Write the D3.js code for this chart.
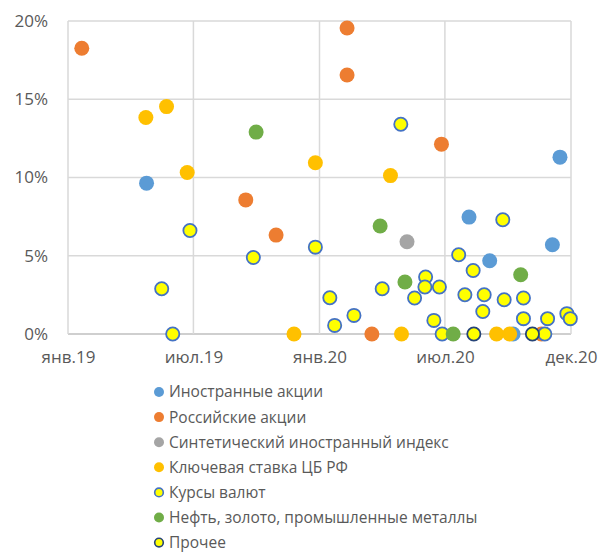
<!doctype html>
<html lang="ru">
<head>
<meta charset="utf-8">
<script src="https://d3js.org/d3.v7.min.js"></script>
<style>
  body { margin: 0; background: #fff; }
  text { font-family: "Open Sans", sans-serif; fill: #595959; }
</style>
</head>
<body>
<div id="chart"></div>
<script>
// data: [date, percent]
var foreignStocks = [["2019-04-25", 9.64], ["2020-08-05", 7.47], ["2020-09-04", 4.68], ["2020-12-04", 5.7], ["2020-12-15", 11.3], ["2020-10-08", 0]];
var russianStocks = [["2019-01-21", 18.26], ["2020-02-10", 19.55], ["2020-02-10", 16.55], ["2019-09-16", 8.57], ["2019-10-30", 6.32], ["2020-06-26", 12.13], ["2020-03-17", 0], ["2020-11-18", 0]];
var syntheticIndex = [["2020-05-07", 5.89]];
var keyRate = [["2019-04-24", 13.83], ["2019-05-24", 14.53], ["2019-06-23", 10.32], ["2019-12-26", 10.94], ["2020-04-13", 10.12], ["2019-11-25", 0], ["2020-04-29", 0], ["2020-09-14", 0], ["2020-10-03", 0]];
var currencies = [["2020-04-28", 13.4], ["2019-06-27", 6.61], ["2019-05-17", 2.89], ["2019-06-02", 0], ["2019-09-27", 4.89], ["2019-12-26", 5.55],
  ["2020-01-16", 2.32], ["2020-01-23", 0.55], ["2020-02-20", 1.19], ["2020-04-01", 2.89], ["2020-05-18", 2.3], ["2020-06-03", 3.64],
  ["2020-06-02", 3.0], ["2020-06-23", 3.0], ["2020-06-15", 0.87], ["2020-06-27", 0], ["2020-09-23", 7.3], ["2020-07-21", 5.06],
  ["2020-08-11", 4.06], ["2020-07-30", 2.51], ["2020-08-27", 2.51], ["2020-08-25", 1.44], ["2020-09-25", 2.19], ["2020-10-23", 2.3],
  ["2020-10-23", 0.98], ["2020-11-27", 0.98], ["2020-12-25", 1.3], ["2020-12-30", 0.98], ["2020-11-23", 0]];
var commodities = [["2019-10-01", 12.9], ["2020-03-29", 6.9], ["2020-05-04", 3.32], ["2020-07-13", 0], ["2020-10-19", 3.79]];
var other = [["2020-08-12", 0], ["2020-11-05", 0]];

var seriesNames = ["Иностранные акции", "Российские акции", "Синтетический иностранный индекс", "Ключевая ставка ЦБ РФ",
  "Курсы валют", "Нефть, золото, промышленные металлы", "Прочее"];
var seriesData = [foreignStocks, russianStocks, syntheticIndex, keyRate, currencies, commodities, other];

var xTickDates = ["2019-01-01", "2019-07-02", "2020-01-01", "2020-07-01", "2020-12-31"];
var xTickLabels = ["янв.19", "июл.19", "янв.20", "июл.20", "дек.20"];
var yTicks = [0, 5, 10, 15, 20];

// styles per series
var fills = ["#5B9BD5", "#ED7D31", "#A5A5A5", "#FFC000", "#FFFF00", "#70AD47", "#FFFF00"];
var strokes = ["none", "none", "none", "none", "#4472C4", "none", "#264478"];

var margin = {top: 21, right: 30, bottom: 220, left: 68},
    width = 601 - margin.left - margin.right,
    height = 554 - margin.top - margin.bottom;

var parse = d3.timeParse("%Y-%m-%d");

var x = d3.scaleTime().domain([parse(xTickDates[0]), parse(xTickDates[4])]).range([0, width]);
var y = d3.scaleLinear().domain([0, 20]).range([height, 0]);

var svg = d3.select("#chart").append("svg")
    .attr("width", 601)
    .attr("height", 554);

var g = svg.append("g").attr("transform", "translate(" + margin.left + "," + margin.top + ")");

// grid
g.append("g").selectAll("line").data(yTicks).enter().append("line")
    .attr("x1", 0).attr("x2", width)
    .attr("y1", function(d) { return y(d); }).attr("y2", function(d) { return y(d); })
    .attr("stroke", function(d) { return d == 0 ? "#bfbfbf" : "#d9d9d9"; })
    .attr("stroke-width", 1.5);
g.append("g").selectAll("line").data(xTickDates).enter().append("line")
    .attr("x1", function(d) { return x(parse(d)); }).attr("x2", function(d) { return x(parse(d)); })
    .attr("y1", 0).attr("y2", height)
    .attr("stroke", "#d9d9d9")
    .attr("stroke-width", 1.5);

// axes (labels only)
var yAxis = g.append("g")
    .call(d3.axisLeft(y).tickValues(yTicks).tickFormat(function(d) { return d + "%"; }).tickSize(0).tickPadding(20));
yAxis.select(".domain").remove();
yAxis.selectAll("text").style("font-size", "17px").attr("fill", "#595959");

var xAxis = g.append("g")
    .attr("transform", "translate(0," + height + ")")
    .call(d3.axisBottom(x).tickValues(xTickDates.map(parse)).tickFormat(function(d, i) { return xTickLabels[i]; }).tickSize(0).tickPadding(17));
xAxis.select(".domain").remove();
xAxis.selectAll("text").style("font-size", "17px").attr("fill", "#595959");

// points
seriesData.forEach(function(data, i) {
    g.append("g").selectAll("circle").data(data).enter().append("circle")
        .attr("cx", function(d) { return x(parse(d[0])); })
        .attr("cy", function(d) { return y(d[1]); })
        .attr("r", strokes[i] == "none" ? 7.5 : 6.6)
        .attr("fill", fills[i])
        .attr("stroke", strokes[i])
        .attr("stroke-width", 1.8);
});

// legend
var legend = svg.append("g").attr("transform", "translate(159,392)");
var item = legend.selectAll("g").data(seriesNames).enter().append("g")
    .attr("transform", function(d, i) { return "translate(0," + (i * 25.1) + ")"; });
item.append("circle")
    .attr("r", function(d, i) { return strokes[i] == "none" ? 5 : 4.3; })
    .attr("fill", function(d, i) { return fills[i]; })
    .attr("stroke", function(d, i) { return strokes[i]; })
    .attr("stroke-width", 1.6);
item.append("text")
    .attr("x", 10)
    .attr("dy", "0.35em")
    .style("font-size", "15.5px")
    .text(function(d) { return d; });
</script>
</body>
</html>
